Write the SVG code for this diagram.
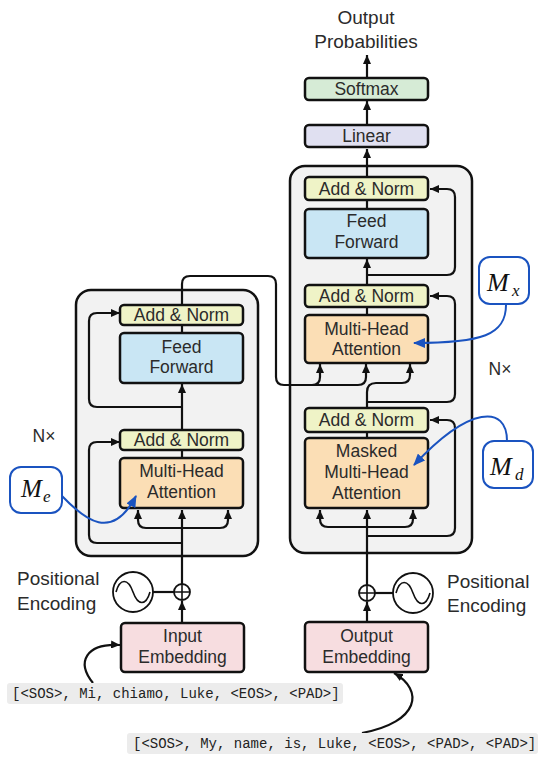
<svg xmlns="http://www.w3.org/2000/svg" width="540" height="765" viewBox="0 0 540 765">
<defs>
<marker id="ah" markerUnits="userSpaceOnUse" markerWidth="9" markerHeight="8" refX="9" refY="4" orient="auto"><path d="M0,0 L9,4 L0,8 z" fill="#111"/></marker>
<marker id="ahb" markerUnits="userSpaceOnUse" markerWidth="12" markerHeight="10" refX="11" refY="5" orient="auto"><path d="M0,0 L12,5 L0,10 z" fill="#1a53c0"/></marker>
<style>
.outer{fill:#f2f2f2;stroke:#111;stroke-width:2.5}
.box{stroke:#111;stroke-width:2.5}
.an{fill:#eff3c7}
.ff{fill:#c9e6f4}
.mha{fill:#fbdeb5}
.emb{fill:#f7dde0}
.sm{fill:#d6ebd6}
.lin{fill:#e0e0f1}
.t{font-family:"Liberation Sans",Arial,sans-serif;font-size:17.5px;fill:#2b2b2b;text-anchor:middle}
.lbl{font-family:"Liberation Sans",Arial,sans-serif;font-size:19px;fill:#2b2b2b}
.c{fill:none;stroke:#111;stroke-width:2.2}
.a{marker-end:url(#ah)}
.blue{fill:none;stroke:#1a53c0;stroke-width:2;marker-end:url(#ahb)}
.mbox{fill:#fff;stroke:#1a53c0;stroke-width:2}
.m{font-family:"Liberation Serif","Times New Roman",serif;font-style:italic;fill:#111}
.tok{fill:#ececec}
.mono{font-family:"Liberation Mono","Courier New",monospace;font-size:14px;fill:#222}
</style>
</defs>

<g id="encoder-stack"><rect class="outer" x="76" y="290" width="182" height="266" rx="15"/></g>
<g id="decoder-stack"><rect class="outer" x="290" y="166" width="182" height="387" rx="15"/></g>

<g id="connectors">
<!-- encoder -->
<path class="c a" d="M182 623 V601"/>
<path class="c" d="M174 592 H153"/>
<path class="c a" d="M182 584 V510"/>
<path class="c a" d="M182 528 H146 Q138 528 138 520 V510"/>
<path class="c a" d="M182 528 H220 Q228 528 228 520 V510"/>
<path class="c a" d="M182 543 H97 Q89 543 89 535 V450 Q89 442 97 442 H120"/>
<path class="c" d="M182 458 V450"/>
<path class="c a" d="M182 430 V384"/>
<path class="c a" d="M182 407 H97 Q89 407 89 399 V321 Q89 313 97 313 H120"/>
<path class="c" d="M182 333 V325"/>
<path class="c a" d="M182 305 V284 Q182 276 190 276 H268 Q276 276 276 284 V377 Q276 385 284 385 H312 Q320 385 320 377 V364"/>
<path class="c a" d="M312 385 H358 Q366 385 366 377 V364"/>
<!-- decoder -->
<path class="c a" d="M367 622 V602"/>
<path class="c" d="M375 593 H393"/>
<path class="c a" d="M367 585 V510"/>
<path class="c a" d="M367 527 H328 Q320 527 320 519 V510"/>
<path class="c a" d="M367 527 H405 Q413 527 413 519 V510"/>
<path class="c a" d="M367 536 H447 Q455 536 455 528 V428 Q455 420 447 420 H430"/>
<path class="c" d="M367 438 V432"/>
<path class="c a" d="M367 408 V392 Q367 383 376 383 H402 Q410 383 410 375 V364"/>
<path class="c a" d="M367 402 H447 Q455 402 455 394 V304 Q455 296 447 296 H430"/>
<path class="c" d="M367 315 V307"/>
<path class="c a" d="M367 285 V259"/>
<path class="c a" d="M367 275 H447 Q455 275 455 267 V197 Q455 189 447 189 H430"/>
<path class="c" d="M367 209 V200"/>
<path class="c a" d="M367 177 V149"/>
<path class="c a" d="M367 125 V101"/>
<path class="c a" d="M367 78 V55"/>
<!-- tokens -->
<path class="c a" d="M93 683 C76 662 86 643 120 645"/>
<path class="c a" d="M362 733 C420 722 424 690 394 673"/>
</g>

<g id="out-probs"><text class="lbl" x="366" y="24" text-anchor="middle">Output</text><text class="lbl" x="366" y="48" text-anchor="middle">Probabilities</text></g>
<g id="softmax"><rect class="box sm" x="305" y="78" width="123" height="22" rx="4"/><text class="t" x="366.5" y="95">Softmax</text></g>
<g id="linear"><rect class="box lin" x="305" y="125" width="123" height="22" rx="4"/><text class="t" x="366.5" y="142">Linear</text></g>

<g id="dec-addnorm3"><rect class="box an" x="305" y="177" width="123" height="23" rx="4"/><text class="t" x="366.5" y="195">Add &amp; Norm</text></g>
<g id="dec-ff"><rect class="box ff" x="305" y="209" width="123" height="49" rx="4"/><text class="t" x="366.5" y="227">Feed</text><text class="t" x="366.5" y="248">Forward</text></g>
<g id="dec-addnorm2"><rect class="box an" x="305" y="285" width="123" height="22" rx="4"/><text class="t" x="366.5" y="302">Add &amp; Norm</text></g>
<g id="dec-mha"><rect class="box mha" x="305" y="315" width="123" height="48" rx="4"/><text class="t" x="366.5" y="335">Multi-Head</text><text class="t" x="366.5" y="355">Attention</text></g>
<g id="dec-addnorm1"><rect class="box an" x="305" y="408" width="123" height="24" rx="4"/><text class="t" x="366.5" y="426">Add &amp; Norm</text></g>
<g id="dec-masked"><rect class="box mha" x="305" y="438" width="123" height="70" rx="4"/><text class="t" x="366.5" y="457">Masked</text><text class="t" x="366.5" y="478">Multi-Head</text><text class="t" x="366.5" y="499">Attention</text></g>

<g id="enc-addnorm2"><rect class="box an" x="120" y="305" width="123" height="20" rx="4"/><text class="t" x="181.5" y="321">Add &amp; Norm</text></g>
<g id="enc-ff"><rect class="box ff" x="120" y="333" width="123" height="50" rx="4"/><text class="t" x="181.5" y="353">Feed</text><text class="t" x="181.5" y="373">Forward</text></g>
<g id="enc-addnorm1"><rect class="box an" x="120" y="430" width="123" height="20" rx="4"/><text class="t" x="181.5" y="446">Add &amp; Norm</text></g>
<g id="enc-mha"><rect class="box mha" x="120" y="458" width="123" height="50" rx="4"/><text class="t" x="181.5" y="477">Multi-Head</text><text class="t" x="181.5" y="498">Attention</text></g>

<g id="enc-nx"><text class="t" x="44" y="442">N×</text></g>
<g id="dec-nx"><text class="t" x="500" y="375">N×</text></g>

<g id="enc-plus"><circle cx="182" cy="592" r="8" fill="#fff" stroke="#111" stroke-width="1.8"/><path d="M174 592 H190 M182 584 V600" stroke="#111" stroke-width="1.6"/></g>
<g id="enc-pe"><circle cx="133" cy="592" r="20" fill="#fff" stroke="#111" stroke-width="1.8"/><path d="M116 592 C120 578 128 578 133 592 S146 606 150 592" fill="none" stroke="#111" stroke-width="1.6"/><text class="lbl" x="17" y="585">Positional</text><text class="lbl" x="17" y="610">Encoding</text></g>
<g id="dec-plus"><circle cx="367" cy="593" r="8" fill="#fff" stroke="#111" stroke-width="1.8"/><path d="M359 593 H375 M367 585 V601" stroke="#111" stroke-width="1.6"/></g>
<g id="dec-pe"><circle cx="413" cy="593" r="20" fill="#fff" stroke="#111" stroke-width="1.8"/><path d="M396 593 C400 579 408 579 413 593 S426 607 430 593" fill="none" stroke="#111" stroke-width="1.6"/><text class="lbl" x="447" y="588">Positional</text><text class="lbl" x="447" y="612">Encoding</text></g>

<g id="input-emb"><rect class="box emb" x="121" y="623" width="123" height="49" rx="4"/><text class="t" x="182.5" y="642">Input</text><text class="t" x="182.5" y="663">Embedding</text></g>
<g id="output-emb"><rect class="box emb" x="305" y="622" width="123" height="50" rx="4"/><text class="t" x="366.5" y="642">Output</text><text class="t" x="366.5" y="663">Embedding</text></g>

<g id="tokens-in"><rect class="tok" x="7" y="683" width="336" height="21" rx="3"/><text class="mono" x="12" y="698" xml:space="preserve">[&lt;SOS&gt;, Mi, chiamo, Luke, &lt;EOS&gt;, &lt;PAD&gt;]</text></g>
<g id="tokens-out"><rect class="tok" x="127" y="733" width="411" height="21" rx="3"/><text class="mono" x="133" y="748" xml:space="preserve">[&lt;SOS&gt;, My, name, is, Luke, &lt;EOS&gt;, &lt;PAD&gt;, &lt;PAD&gt;]</text></g>

<g id="mask-connectors">
<path class="blue" d="M62 496 C85 520 112 542 136 496"/>
<path class="blue" d="M506 305 C506 335 482 343 414 343"/>
<path class="blue" d="M507 441 C507 405 470 405 414 465"/>
</g>

<g id="m-e"><rect class="mbox" x="10" y="467" width="52" height="46" rx="11"/><text class="m" x="21" y="497" font-size="25">M</text><text class="m" x="43" y="502" font-size="17">e</text></g>
<g id="m-x"><rect class="mbox" x="479" y="257" width="50" height="47" rx="11"/><text class="m" x="487" y="291" font-size="26">M</text><text class="m" x="512" y="296" font-size="17">x</text></g>
<g id="m-d"><rect class="mbox" x="483" y="441" width="50" height="47" rx="11"/><text class="m" x="490" y="475" font-size="26">M</text><text class="m" x="515" y="480" font-size="17">d</text></g>
</svg>
